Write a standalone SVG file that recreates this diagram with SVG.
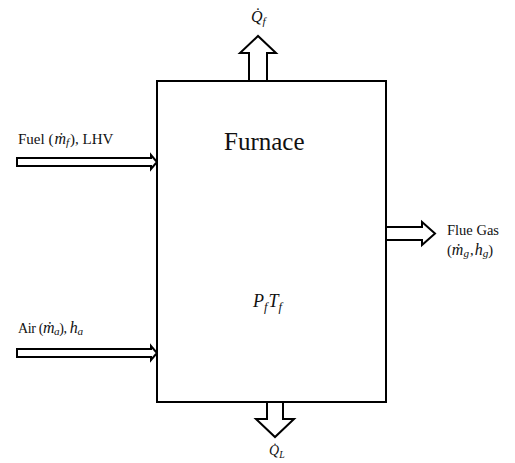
<svg xmlns="http://www.w3.org/2000/svg" width="515" height="463" viewBox="0 0 515 463">
<style>
.shape{fill:#fff;stroke:#000;stroke-width:2;stroke-linejoin:miter}
.t{font-family:"Liberation Serif","Times New Roman",serif;fill:#111}
.i{font-style:italic}
.m{font-style:italic;font-size:16px}
.sub{font-size:70%}
</style>
<rect width="515" height="463" fill="#fff"/>
<g id="connectors">
<polygon id="arrow-qf" class="shape" points="249,81 249,53 240,53 258,36 276,53 267,53 267,81"/>
<polygon id="arrow-ql" class="shape" points="267,402 267,419 256,419 275,437 294,419 283,419 283,402"/>
<polygon id="arrow-flue" class="shape" points="386,227 422,227 422,222 435,233.5 422,245 422,240 386,240"/>
<polygon id="arrow-fuel" class="shape" points="17,158 151,158 151,155 157,162 151,169 151,166 17,166"/>
<polygon id="arrow-air" class="shape" points="17,349 151,349 151,346 157,353 151,360 151,357 17,357"/>
</g>
<g id="furnace">
<rect class="shape" x="157" y="81" width="229" height="321"/>
<text class="t" x="224" y="150" font-size="25">Furnace</text>
<text class="t i" x="253" y="307" font-size="18">P<tspan class="sub" dy="4">f</tspan><tspan dy="-4" dx="1">T</tspan><tspan class="sub" dy="4">f</tspan></text>
</g>
<g id="label-qf">
<text class="t i" x="251" y="22" font-size="16">Q̇<tspan class="sub" dy="3">f</tspan></text>
</g>
<g id="label-ql">
<text class="t i" x="269" y="455" font-size="14">Q̇<tspan class="sub" dy="3">L</tspan></text>
</g>
<g id="label-fuel">
<text class="t" x="18" y="144" font-size="15">Fuel (<tspan class="m" dx="1">ṁ<tspan class="sub" dy="2">f</tspan></tspan><tspan dy="-2" dx="1">), LHV</tspan></text>
</g>
<g id="label-air">
<text class="t" x="18" y="333" font-size="14" textLength="65" lengthAdjust="spacing">Air (<tspan class="m">ṁ<tspan class="sub" dy="2">a</tspan></tspan><tspan dy="-2">), </tspan><tspan class="m">h<tspan class="sub" dy="2">a</tspan></tspan></text>
</g>
<g id="label-flue">
<text class="t" x="447" y="235" font-size="14.5">Flue Gas</text>
<text class="t" x="447" y="255" font-size="14.5">(<tspan class="m">ṁ<tspan class="sub" dy="2">g</tspan></tspan><tspan dy="-2" dx="1">,</tspan><tspan class="m" dx="1">h<tspan class="sub" dy="2">g</tspan></tspan><tspan dy="-2">)</tspan></text>
</g>
</svg>
